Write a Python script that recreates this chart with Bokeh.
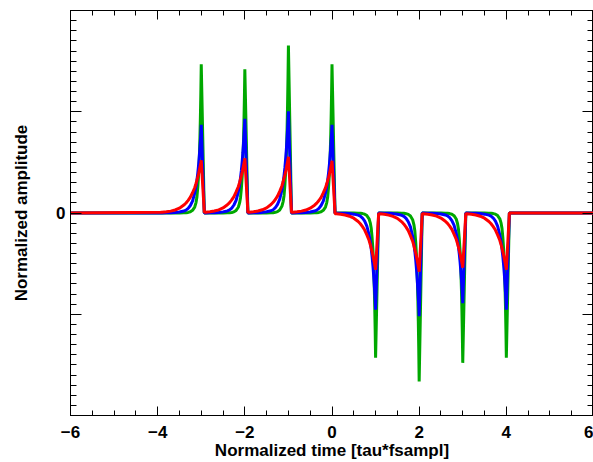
from bokeh.plotting import figure
from bokeh.models import LinearAxis, FixedTicker, Range1d
from bokeh.embed import file_html
from bokeh.resources import INLINE

# spike instants (normalized time) and their amplitudes
pos_times = [-3, -2, -1, 0]
neg_times = [1, 2, 3, 4]
green_peaks = [1.47, 1.42, 1.655, 1.47]
green_troughs = [-1.43, -1.665, -1.48, -1.43]
blue_peaks = [0.87, 0.93, 1.005, 0.87]
blue_troughs = [-0.955, -1.02, -0.89, -0.955]
red_peaks = [0.52, 0.54, 0.555, 0.515]
red_troughs = [-0.56, -0.58, -0.54, -0.56]

# pulse shape before each spike (offset from spike time, fraction of peak)
pulse_offsets = [-0.93, -0.9, -0.8, -0.7, -0.6, -0.5, -0.4, -0.35, -0.3, -0.25,
                 -0.2, -0.15, -0.12, -0.1, -0.08, -0.06, -0.045, -0.03, -0.02, -0.01, 0.0]
green_shape = [0.0, 0.0, 0.0, 0.0, 0.0, 0.0, 0.001, 0.002, 0.004, 0.008,
               0.018, 0.04, 0.07, 0.105, 0.17, 0.26, 0.36, 0.51, 0.64, 0.8, 1.0]
blue_shape = [0.001, 0.001, 0.0015, 0.003, 0.006, 0.012, 0.022, 0.032, 0.052, 0.085,
              0.135, 0.225, 0.3, 0.37, 0.45, 0.55, 0.64, 0.74, 0.82, 0.9, 1.0]
red_shape = [0.012, 0.014, 0.022, 0.036, 0.057, 0.092, 0.15, 0.19, 0.24, 0.3,
             0.385, 0.48, 0.56, 0.62, 0.68, 0.75, 0.81, 0.87, 0.91, 0.95, 1.0]

x_ticks = [-6, -4, -2, 0, 2, 4, 6]
x_labels = ["\u22126", "\u22124", "\u22122", "0", "2", "4", "6"]
y_ticks = [-2, -1, 0, 1, 2]
y_labels = ["", "", "0", "", ""]


def build(peaks, troughs, shape):
    xs, ys = [-6.0], [0.0]
    for t, a in zip(pos_times + neg_times, peaks + troughs):
        for o, s in zip(pulse_offsets, shape):
            xs.append(t + o)
            ys.append(a * s)
    xs += [neg_times[-1] + 0.07, 6.0]
    ys += [0.0, 0.0]
    return xs, ys


FONT = "Liberation Sans"

p = figure(width=593, height=462, output_backend="svg", toolbar_location=None,
           x_range=Range1d(-6, 6), y_range=Range1d(-2, 2),
           x_axis_type=None, y_axis_type=None,
           min_border_left=70, min_border_right=0, min_border_top=10, min_border_bottom=46)
p.background_fill_color = "white"
p.border_fill_color = "white"
p.outline_line_color = "black"
p.grid.visible = False

xticker = FixedTicker(ticks=x_ticks, minor_ticks=[-6 + 0.5 * i for i in range(25)])
yticker = FixedTicker(ticks=y_ticks, minor_ticks=[round(-2 + 0.1 * i, 2) for i in range(41)])


def style(ax, major_len, minor_len, show_labels, ticks):
    ax.major_tick_in = major_len
    ax.major_tick_out = 0
    ax.minor_tick_in = minor_len
    ax.minor_tick_out = 0
    ax.axis_line_color = "black"
    ax.major_tick_line_color = "black"
    ax.minor_tick_line_color = "black"
    ax.major_label_text_font = FONT
    ax.major_label_text_font_style = "bold"
    ax.major_label_text_font_size = "17px"
    ax.major_label_text_color = "black"
    ax.axis_label_text_font = FONT
    ax.axis_label_text_font_style = "bold"
    ax.axis_label_text_font_size = "17px"
    ax.axis_label_text_color = "black"
    if not show_labels:
        ax.major_label_overrides = {t: "" for t in ticks}
        ax.major_label_text_font_size = "0px"
        ax.major_label_text_alpha = 0
        ax.major_label_standoff = 0
        ax.axis_label_standoff = 0


xb = LinearAxis(ticker=xticker, axis_label="Normalized time [tau*fsampl]",
                major_label_overrides={t: l for t, l in zip(x_ticks, x_labels)})
style(xb, 9, 5, True, x_ticks)
xb.major_label_standoff = 10
xb.axis_label_standoff = 0
p.add_layout(xb, "below")

xt = LinearAxis(ticker=xticker)
style(xt, 9, 5, False, x_ticks)
p.add_layout(xt, "above")

yl = LinearAxis(ticker=yticker, axis_label="Normalized amplitude",
                major_label_overrides={t: l for t, l in zip(y_ticks, y_labels)})
style(yl, 11, 6, True, y_ticks)
yl.major_label_standoff = 5
yl.axis_label_standoff = 22
p.add_layout(yl, "left")

yr = LinearAxis(ticker=yticker)
style(yr, 11, 6, False, y_ticks)
p.add_layout(yr, "right")

for (pk, tr, sh, col) in [(green_peaks, green_troughs, green_shape, "#00a800"),
                          (blue_peaks, blue_troughs, blue_shape, "#0000ff"),
                          (red_peaks, red_troughs, red_shape, "#ff0000")]:
    xs, ys = build(pk, tr, sh)
    p.line(xs, ys, line_color=col, line_width=3)

open("out.html", "w").write(file_html(p, INLINE))
